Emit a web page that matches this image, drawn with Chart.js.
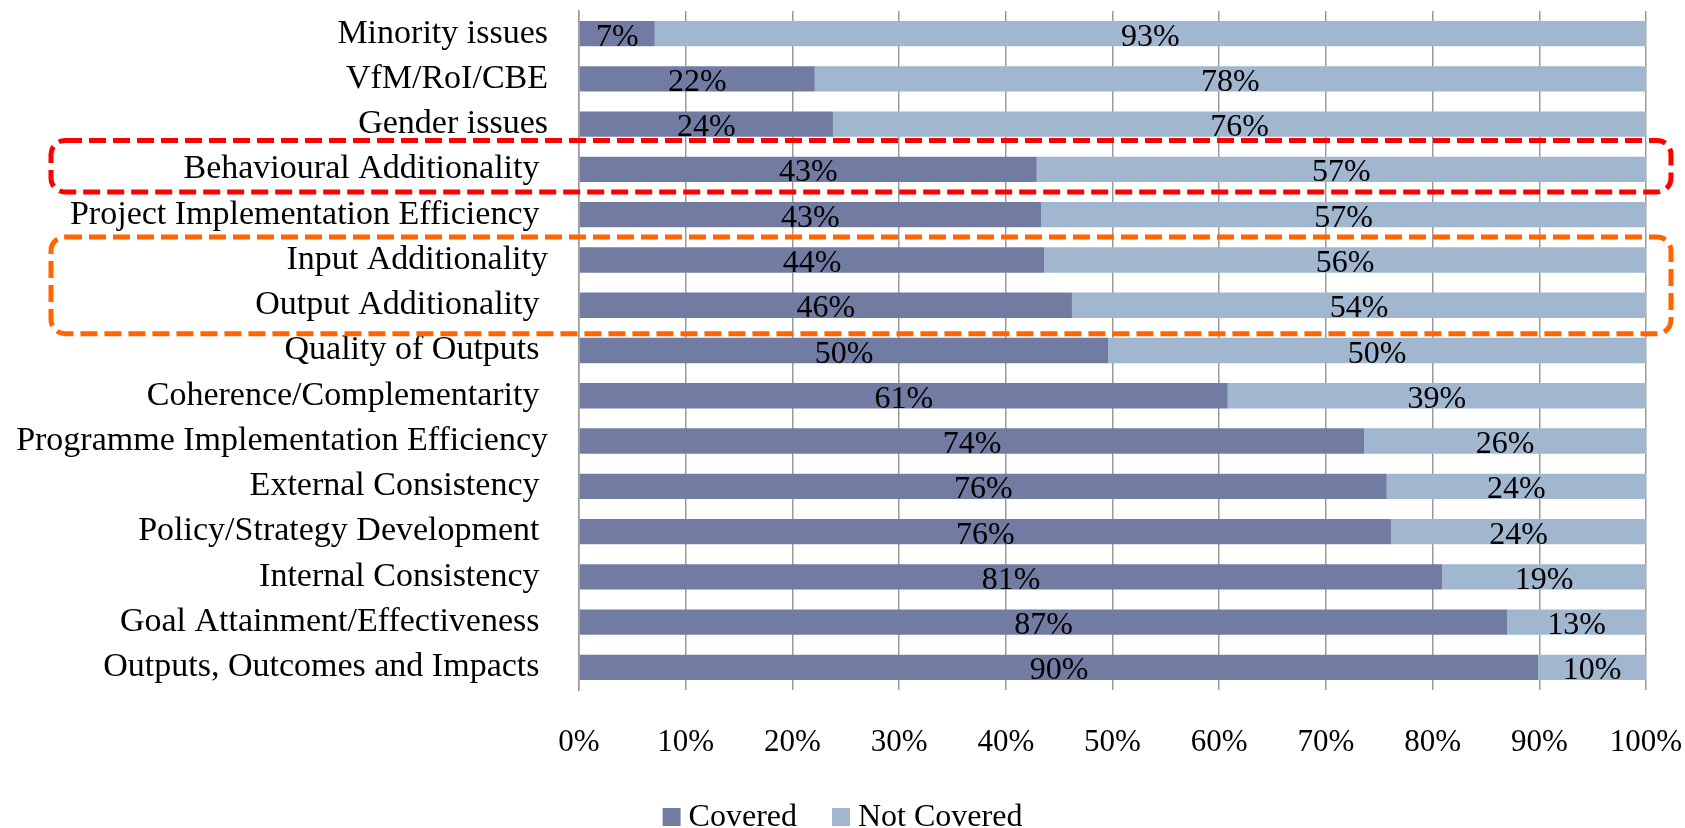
<!DOCTYPE html>
<html>
<head>
<meta charset="utf-8">
<script src="https://cdn.jsdelivr.net/npm/chart.js@4.4.0/dist/chart.umd.min.js"></script>
<style>
  html, body { margin: 0; padding: 0; background: #fff; }
  #wrap { width: 1685px; height: 828px; }
</style>
</head>
<body>
<div id="wrap"><canvas id="barChart" width="1685" height="828"></canvas></div>
<script>
// categories, top to bottom
const categories = [
  "Minority issues",
  "VfM/RoI/CBE",
  "Gender issues",
  "Behavioural Additionality ",
  "Project Implementation Efficiency ",
  "Input Additionality",
  "Output Additionality ",
  "Quality of Outputs ",
  "Coherence/Complementarity ",
  "Programme Implementation Efficiency",
  "External Consistency ",
  "Policy/Strategy Development ",
  "Internal Consistency ",
  "Goal Attainment/Effectiveness ",
  "Outputs, Outcomes and Impacts "
];
const covered = [7.1, 22.1, 23.8, 42.9, 43.3, 43.6, 46.2, 49.6, 60.8, 73.6, 75.7, 76.1, 80.9, 87.0, 89.9];
const notCovered = [92.9, 77.9, 76.2, 57.1, 56.7, 56.4, 53.8, 50.4, 39.2, 26.4, 24.3, 23.9, 19.1, 13.0, 10.1];
const xTicks = [0, 10, 20, 30, 40, 50, 60, 70, 80, 90, 100];

const FONT = "'Liberation Serif', 'DejaVu Serif', serif";

// value labels in the middle of each segment
const segmentLabels = {
  id: "segmentLabels",
  afterDatasetsDraw(chart) {
    const ctx = chart.ctx;
    ctx.save();
    ctx.font = "32px " + FONT;
    ctx.fillStyle = "#000";
    ctx.textAlign = "center";
    ctx.textBaseline = "alphabetic";
    chart.data.datasets.forEach((ds, i) => {
      chart.getDatasetMeta(i).data.forEach((bar, j) => {
        const x = (bar.x + bar.base) / 2;
        ctx.fillText(Math.round(ds.data[j]) + "%", x, bar.y + 12);
      });
    });
    ctx.restore();
  }
};

// dashed rounded boxes around highlighted rows
const highlightBoxes = {
  id: "highlightBoxes",
  afterDraw(chart) {
    const ctx = chart.ctx;
    const y = chart.scales.y;
    const boxes = [
      { from: 3, to: 3, up: 29, down: 22.5, color: "#FF0000" },
      { from: 5, to: 6, up: 23, down: 28.5, color: "#FF6600" }
    ];
    ctx.save();
    ctx.lineWidth = 5;
    ctx.setLineDash([17, 7]);
    boxes.forEach(b => {
      const top = y.getPixelForValue(b.from) - b.up;
      const bottom = y.getPixelForValue(b.to) + b.down;
      ctx.strokeStyle = b.color;
      ctx.beginPath();
      ctx.roundRect(51, top, 1671 - 51, bottom - top, 14);
      ctx.stroke();
    });
    ctx.restore();
  }
};

// legend centred under the chart, square markers
const bottomLegend = {
  id: "bottomLegend",
  afterDraw(chart) {
    const ctx = chart.ctx;
    const box = 18, gap = 8, spacing = 35;
    ctx.save();
    ctx.font = "32px " + FONT;
    ctx.textBaseline = "alphabetic";
    ctx.textAlign = "left";
    const items = chart.data.datasets.map(ds => ({
      text: ds.label,
      color: ds.backgroundColor,
      w: ctx.measureText(ds.label).width
    }));
    let total = 0;
    items.forEach((it, i) => { total += box + gap + it.w + (i ? spacing : 0); });
    let x = (chart.width - total) / 2;
    const base = chart.height - 2;
    items.forEach(it => {
      ctx.fillStyle = it.color;
      ctx.fillRect(x, base - box, box, box);
      ctx.fillStyle = "#000";
      ctx.fillText(it.text, x + box + gap, base);
      x += box + gap + it.w + spacing;
    });
    ctx.restore();
  }
};

const ctx = document.getElementById("barChart").getContext("2d");
const chart = new Chart(ctx, {
  type: "bar",
  data: {
    labels: categories,
    datasets: [
      {
        label: "Covered",
        backgroundColor: "#727CA3",
        data: covered
      },
      {
        label: "Not Covered",
        backgroundColor: "#A0B7CF",
        data: notCovered
      }
    ]
  },
  options: {
    indexAxis: "y",
    responsive: false,
    animation: false,
    barPercentage: 0.56,
    categoryPercentage: 1,
    layout: { padding: { top: 11, right: 39, left: 0, bottom: 0 } },
    scales: {
      x: {
        stacked: true,
        min: 0,
        max: 100,
        afterBuildTicks: s => { s.ticks = xTicks.map(v => ({ value: v })); },
        afterFit: s => { s.height = 138; s.paddingLeft = 0; s.paddingRight = 0; },
        border: { display: false },
        grid: { color: "#9A9A9A", lineWidth: 1.5, drawTicks: false },
        ticks: {
          padding: 34,
          color: "#000",
          font: { family: FONT, size: 31 },
          callback: v => v + "%"
        }
      },
      y: {
        stacked: true,
        afterFit: s => { s.width = 579; s.paddingTop = 0; s.paddingBottom = 0; },
        border: { display: true, color: "#9A9A9A", width: 1.5 },
        grid: { display: false, drawTicks: false },
        ticks: {
          padding: 31,
          color: "#000",
          font: { family: FONT, size: 34 }
        }
      }
    },
    plugins: {
      tooltip: { enabled: false },
      legend: { display: false }
    }
  },
  plugins: [segmentLabels, highlightBoxes, bottomLegend]
});
</script>
</body>
</html>
